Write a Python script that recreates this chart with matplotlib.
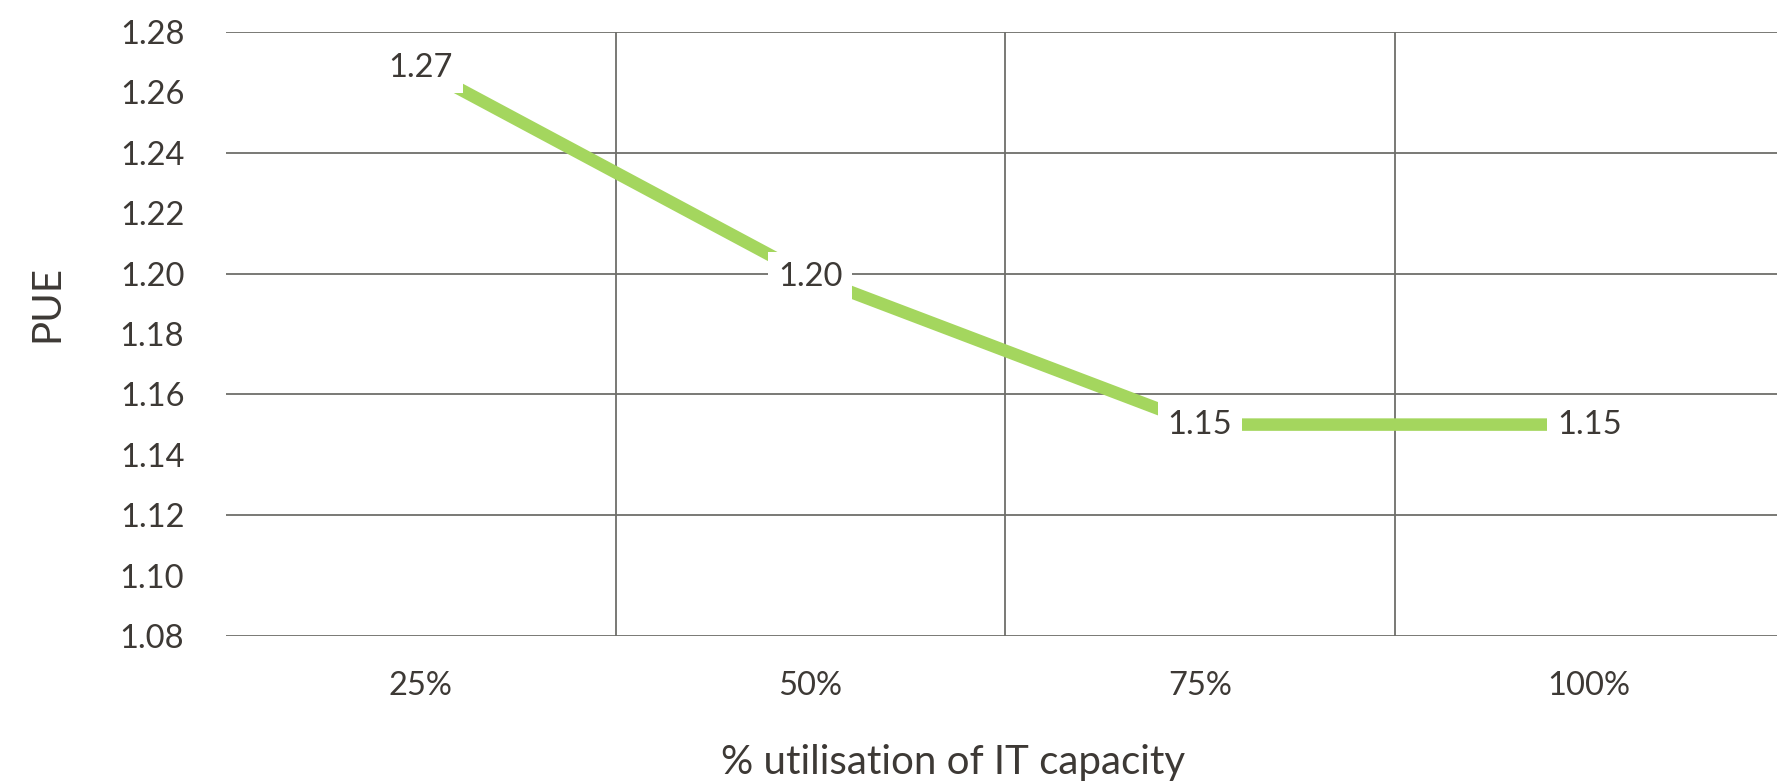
import matplotlib
matplotlib.use('Agg')
import matplotlib.pyplot as plt

categories = ['25%', '50%', '75%', '100%']
pue = [1.268, 1.199, 1.150, 1.150]
pue_labels = ['1.27', '1.20', '1.15', '1.15']
grid_ticks = [1.08, 1.12, 1.16, 1.20, 1.24, 1.28]
odd_ticks = [1.10, 1.14, 1.18, 1.22, 1.26]

txt = '#3d3935'
gridc = '#6e6e6a'
green = '#a4d65e'

plt.rcParams['font.family'] = ['Lato', 'DejaVu Sans']

fig = plt.figure(figsize=(17.77, 7.81), dpi=100)
ax = fig.add_axes([226/1777, 145/781, 1558/1777, 604/781])

x = list(range(len(categories)))
ax.plot(x, pue, color=green, lw=9, solid_capstyle='butt', zorder=3)
for xi, yi, lab in zip(x, pue, pue_labels):
    ax.text(xi, yi, lab, ha='center', va='center', fontsize=23.5, color=txt, zorder=5,
            bbox=dict(boxstyle='square,pad=0.3', fc='white', ec='none'))

ax.set_xlim(-0.5, 3.5)
ax.set_ylim(1.08, 1.28)

ax.set_yticks(grid_ticks)
ax.set_yticks(odd_ticks, minor=True)
ax.set_yticklabels(['%.2f' % v for v in grid_ticks])
ax.set_yticklabels(['%.2f' % v for v in odd_ticks], minor=True)
ax.set_xticks(x)
ax.set_xticklabels(categories)
ax.set_xticks([0.5, 1.5, 2.5], minor=True)

ax.yaxis.grid(True, which='major', color=gridc, lw=1.3, zorder=1)
ax.xaxis.grid(True, which='minor', color=gridc, lw=1.3, zorder=1)
ax.tick_params(axis='both', which='both', length=0, labelsize=23.5, labelcolor=txt)
ax.tick_params(axis='y', which='both', pad=30)
ax.tick_params(axis='x', which='both', pad=25)

for s in ax.spines.values():
    s.set_visible(False)

ax.set_xlabel('% utilisation of IT capacity', fontsize=29, color=txt)
ax.xaxis.set_label_coords((953-226)/1558, -0.228)
ax.xaxis.label.set_va('baseline')
ax.set_ylabel('PUE', fontsize=29, color=txt)
ax.yaxis.set_label_coords(-0.115, 0.551)
ax.yaxis.label.set_va('center')

fig.savefig('out.png', dpi=100)
